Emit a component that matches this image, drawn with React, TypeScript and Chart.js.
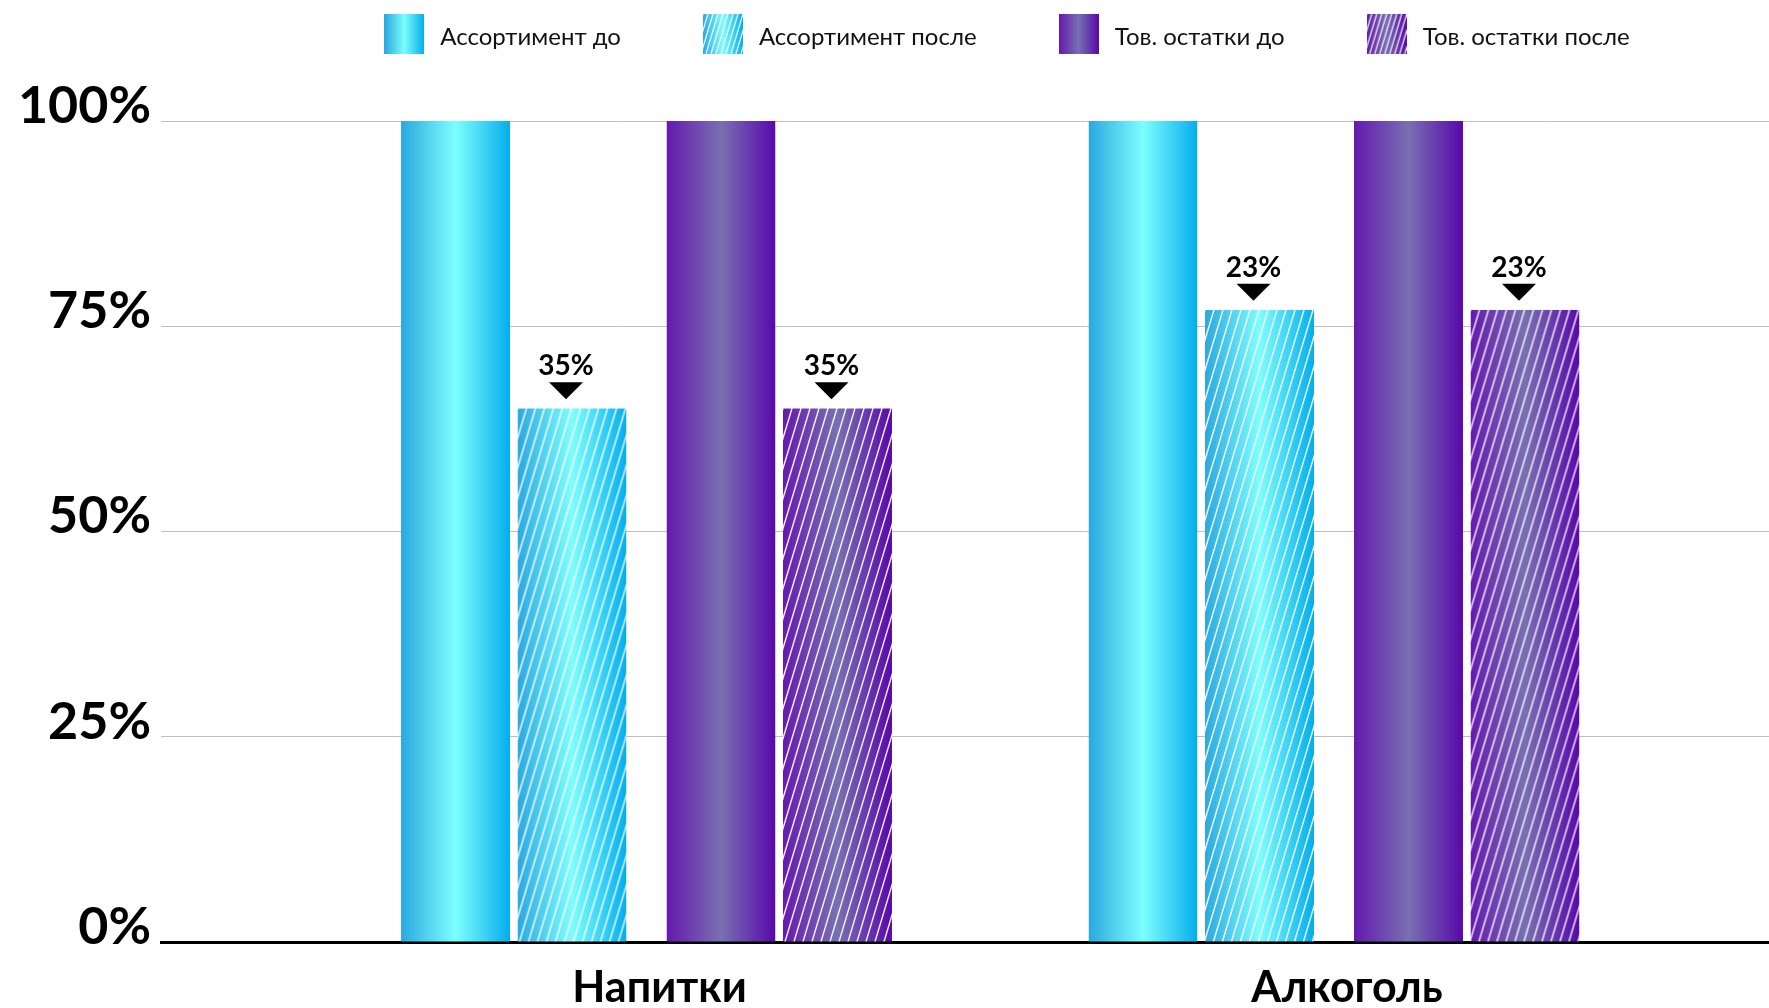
import React, { useEffect, useRef } from 'react';
import { Chart, registerables } from 'chart.js';

Chart.register(...registerables);

// ---------- data ----------
const categories = ['Напитки', 'Алкоголь'];
const seriesLabels = ['Ассортимент до', 'Ассортимент после', 'Тов. остатки до', 'Тов. остатки после'];
const assortmentBefore = [100, 100];
const assortmentAfter = [65, 77];
const stockBefore = [100, 100];
const stockAfter = [65, 77];
const yTickValues = [0, 25, 50, 75, 100];

// ---------- styles ----------
const CYAN = ['#2BA8E0', '#7DFEFE', '#04ADEC'];
const VIOLET = ['#6519AE', '#7870B1', '#5908A9'];
const FONT = 'Lato';

// ---------- layout ----------
const VIEW_W = 1769;
const VIEW_H = 1008;
const CANVAS_W = 2010;
const TOP_SHIFT = 53;
const CANVAS_H = VIEW_H + TOP_SHIFT;
const PLOT_LEFT = 161;
const X_AXIS_H = 66;
const CAT_PX = 687.5;
const FIRST_CAT_PX = 646.5;
const X_MIN = -(FIRST_CAT_PX - PLOT_LEFT) / CAT_PX;
const X_MAX = X_MIN + (CANVAS_W - PLOT_LEFT) / CAT_PX;

const seriesValues = [assortmentBefore, assortmentAfter, stockBefore, stockAfter];
const seriesStyle = [
  { colors: CYAN, hatched: false },
  { colors: CYAN, hatched: true },
  { colors: VIOLET, hatched: false },
  { colors: VIOLET, hatched: true },
];
const barSlots = [
  { cp: 0.7408, bp: 0.856 },
  { cp: 0.8669, bp: 0.7315 },
  { cp: 0.8669, bp: 0.7315 },
  { cp: 0.7408, bp: 0.856 },
];
const dropPairs = [
  [0, 1],
  [2, 3],
];

function paintSwatch(
  w: number,
  h: number,
  colors: string[],
  hatched: boolean,
  step = 9,
  lw = 1.4,
  extraBottom = 0
) {
  const c = document.createElement('canvas');
  const cw = Math.max(1, Math.ceil(w));
  const ch = Math.max(1, Math.ceil(h));
  c.width = cw;
  c.height = ch + extraBottom;
  const g = c.getContext('2d')!;
  const grad = g.createLinearGradient(0, 0, w, 0);
  grad.addColorStop(0, colors[0]);
  grad.addColorStop(0.5, colors[1]);
  grad.addColorStop(1, colors[2]);
  g.fillStyle = grad;
  g.fillRect(0, 0, cw, ch);
  if (hatched) {
    const slope = 0.3;
    g.save();
    g.beginPath();
    g.rect(0, 0, cw, ch);
    g.clip();
    g.strokeStyle = 'rgba(255,255,255,0.95)';
    g.lineWidth = lw;
    g.beginPath();
    for (let x0 = -ch * slope - step; x0 < cw + step; x0 += step) {
      g.moveTo(x0, ch);
      g.lineTo(x0 + ch * slope, 0);
    }
    g.stroke();
    g.restore();
  }
  return c;
}

const barFillPlugin = {
  id: 'barFill',
  beforeDatasetsDraw(chart: any) {
    const ctx = chart.ctx as CanvasRenderingContext2D;
    chart.data.datasets.forEach((_ds: any, di: number) => {
      const meta = chart.getDatasetMeta(di);
      if (meta.hidden) return;
      const st = seriesStyle[di];
      meta.data.forEach((el: any) => {
        const { x, y, base, width } = el.getProps(['x', 'y', 'base', 'width'], true);
        const left = x - width / 2;
        const top = Math.min(y, base);
        const h = Math.abs(base - y);
        const sw = paintSwatch(width, h, st.colors, st.hatched);
        const pat = ctx.createPattern(sw, 'no-repeat');
        if (!pat) return;
        pat.setTransform(new DOMMatrix([1, 0, 0, 1, left, top]));
        el.options = { ...el.options, backgroundColor: pat };
      });
    });
  },
};

const dropLabelPlugin = {
  id: 'dropLabels',
  afterDatasetsDraw(chart: any) {
    const ctx = chart.ctx as CanvasRenderingContext2D;
    ctx.save();
    dropPairs.forEach(([bi, ai]) => {
      const meta = chart.getDatasetMeta(ai);
      meta.data.forEach((el: any, i: number) => {
        const diff = seriesValues[bi][i] - seriesValues[ai][i];
        const { x, y } = el.getProps(['x', 'y'], true);
        const cx = x - 6;
        ctx.fillStyle = '#000';
        ctx.beginPath();
        ctx.moveTo(cx - 17, y - 26);
        ctx.lineTo(cx + 17, y - 26);
        ctx.lineTo(cx, y - 9);
        ctx.closePath();
        ctx.fill();
        ctx.font = `bold 28px ${FONT}`;
        ctx.textAlign = 'center';
        ctx.textBaseline = 'alphabetic';
        ctx.fillText(`${diff}%`, cx, y - 33);
      });
    });
    ctx.restore();
  },
};

export default function App() {
  const ref = useRef<HTMLCanvasElement | null>(null);

  useEffect(() => {
    if (!ref.current) return;
    const legendSwatches = seriesStyle.map((s) => paintSwatch(40, 40, s.colors, s.hatched, 5, 1.2, 6));

    const chart = new Chart(ref.current, {
      type: 'bar',
      data: {
        datasets: seriesLabels.map((label, di) => ({
          label,
          data: seriesValues[di].map((v, i) => ({ x: i, y: v })),
          backgroundColor: seriesStyle[di].colors[1],
          borderWidth: 0,
          categoryPercentage: barSlots[di].cp,
          barPercentage: barSlots[di].bp,
        })),
      },
      options: {
        responsive: false,
        animation: false,
        events: [],
        layout: { padding: 0 },
        plugins: {
          tooltip: { enabled: false },
          legend: {
            position: 'top',
            align: 'center',
            labels: {
              usePointStyle: true,
              pointStyleWidth: 48,
              padding: 78,
              color: '#111',
              font: { family: FONT, size: 24, weight: 'normal' },
              generateLabels: (ch: any) =>
                ch.data.datasets.map((ds: any, i: number) => ({
                  text: ds.label,
                  pointStyle: legendSwatches[i],
                  fillStyle: 'rgba(0,0,0,0)',
                  strokeStyle: 'rgba(0,0,0,0)',
                  lineWidth: 0,
                  hidden: false,
                  datasetIndex: i,
                  fontColor: '#111',
                })),
            },
          },
          subtitle: {
            display: true,
            text: '',
            position: 'top',
            weight: 500,
            font: { size: 10 },
            padding: { top: 0, bottom: 50 },
          },
        },
        scales: {
          x: {
            type: 'linear',
            min: X_MIN,
            max: X_MAX,
            offset: false,
            afterBuildTicks: (s: any) => {
              s.ticks = categories.map((_, i) => ({ value: i }));
            },
            afterFit: (s: any) => {
              s.height = X_AXIS_H;
            },
            grid: { display: false, drawTicks: false, offset: false },
            border: { display: true, color: '#000', width: 3 },
            ticks: {
              autoSkip: false,
              maxRotation: 0,
              padding: 20,
              labelOffset: 13,
              color: '#000',
              font: { family: FONT, size: 43, weight: 'bold' },
              callback: (v: any) => categories[Math.round(Number(v))] ?? '',
            },
          },
          y: {
            min: 0,
            max: 100,
            afterBuildTicks: (s: any) => {
              s.ticks = yTickValues.map((v) => ({ value: v }));
            },
            afterFit: (s: any) => {
              s.width = PLOT_LEFT;
            },
            border: { display: false },
            grid: {
              drawTicks: false,
              lineWidth: 1,
              color: (c: any) => (c.tick && c.tick.value === 0 ? 'rgba(0,0,0,0)' : '#BFBFBF'),
            },
            ticks: {
              padding: 10,
              labelOffset: -15,
              color: '#000',
              font: { family: FONT, size: 52, weight: 'bold' },
              callback: (v: any) => `${v}%`,
            },
          },
        },
      },
      plugins: [barFillPlugin, dropLabelPlugin],
    } as any);

    return () => chart.destroy();
  }, []);

  return (
    <div
      style={{
        position: 'fixed',
        left: 0,
        top: 0,
        width: VIEW_W,
        height: VIEW_H,
        overflow: 'hidden',
        background: '#fff',
      }}
    >
      <div style={{ position: 'absolute', left: 0, top: -TOP_SHIFT, width: CANVAS_W, height: CANVAS_H }}>
        <canvas ref={ref} width={CANVAS_W} height={CANVAS_H} style={{ display: 'block' }} />
      </div>
    </div>
  );
}
